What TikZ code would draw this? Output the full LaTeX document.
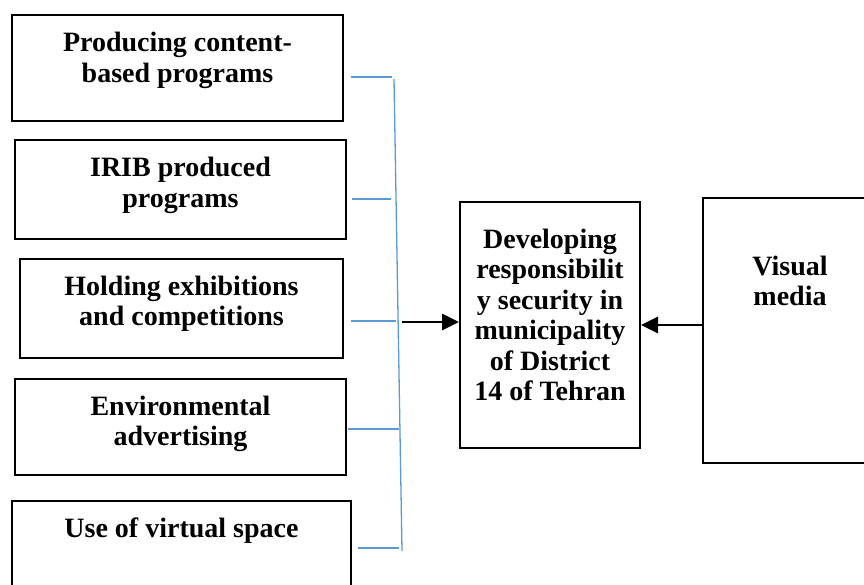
\documentclass[tikz,border=0pt]{standalone}
\usepackage{fontspec}
\setmainfont{Liberation Serif}
\usetikzlibrary{arrows.meta}
\definecolor{linkblue}{HTML}{5B9BD5}
\tikzset{
  box/.style={draw=black, line width=2pt, rectangle, inner sep=0pt},
  lbl/.style={anchor=base, inner sep=0pt, font=\fontsize{28}{30.5}\selectfont\bfseries},
  link/.style={draw=linkblue, line width=1.3pt},
  arr/.style={draw=black, line width=2.8pt, -{Triangle[length=17pt,width=16pt]}}
}
\newcommand{\lines}[2]{\parbox[t]{#1pt}{\centering #2}}
\begin{document}
\begin{tikzpicture}[x=1pt,y=-1pt]
\useasboundingbox (0,0) rectangle (864,585);
\clip (0,0) rectangle (864,585);
% left boxes
\node[box, minimum width=331pt, minimum height=106pt] (b1) at (177.5,68) {};
\node[box, minimum width=331pt, minimum height=99pt] (b2) at (180.5,189.5) {};
\node[box, minimum width=323pt, minimum height=99pt] (b3) at (181.5,308.5) {};
\node[box, minimum width=331pt, minimum height=96pt] (b4) at (180.5,427) {};
\node[box, minimum width=339pt, minimum height=110pt] (b5) at (181.5,556) {};
% centre and right boxes
\node[box, minimum width=180pt, minimum height=246pt] (cb) at (550,325) {};
\node[box, minimum width=200pt, minimum height=265pt] (vm) at (803,330.5) {};
% texts
\node[lbl] (t1) at (177.5,52) {\lines{320}{Producing content-\\based programs}};
\node[lbl] (t2) at (180.5,177) {\lines{320}{IRIB produced\\programs}};
\node[lbl] (t3) at (181.5,295) {\lines{320}{Holding exhibitions\\and competitions}};
\node[lbl] (t4) at (180.5,415) {\lines{320}{Environmental\\advertising}};
\node[lbl] (t5) at (181.5,537) {\lines{330}{Use of virtual space}};
\node[lbl] (tc) at (550,248) {\lines{178}{Developing\\responsibilit\\y security in\\municipality\\of District\\14 of Tehran}};
\node[lbl] (tv) at (790,275) {\lines{150}{Visual\\media}};
% blue connectors
\coordinate (s1) at (351,77);  \coordinate (e1) at (392,77);
\coordinate (s2) at (352,199); \coordinate (e2) at (391,199);
\coordinate (s3) at (351,321); \coordinate (e3) at (396,321);
\coordinate (s4) at (348,429); \coordinate (e4) at (399,429);
\coordinate (s5) at (358,548); \coordinate (e5) at (399,548);
\coordinate (vtop) at (394,79); \coordinate (vbot) at (402,551);
\path[link] (s1) -- (e1);
\path[link] (s2) -- (e2);
\path[link] (s3) -- (e3);
\path[link] (s4) -- (e4);
\path[link] (s5) -- (e5);
\path[link] (vtop) -- (vbot);
% arrows
\coordinate (bus) at (402,322);
\coordinate (vmout) at (vm.west |- 0,325);
\path[arr] (bus) -- (cb.west |- bus);
\path[arr] (vmout) -- (cb.east |- vmout);
\end{tikzpicture}
\end{document}
